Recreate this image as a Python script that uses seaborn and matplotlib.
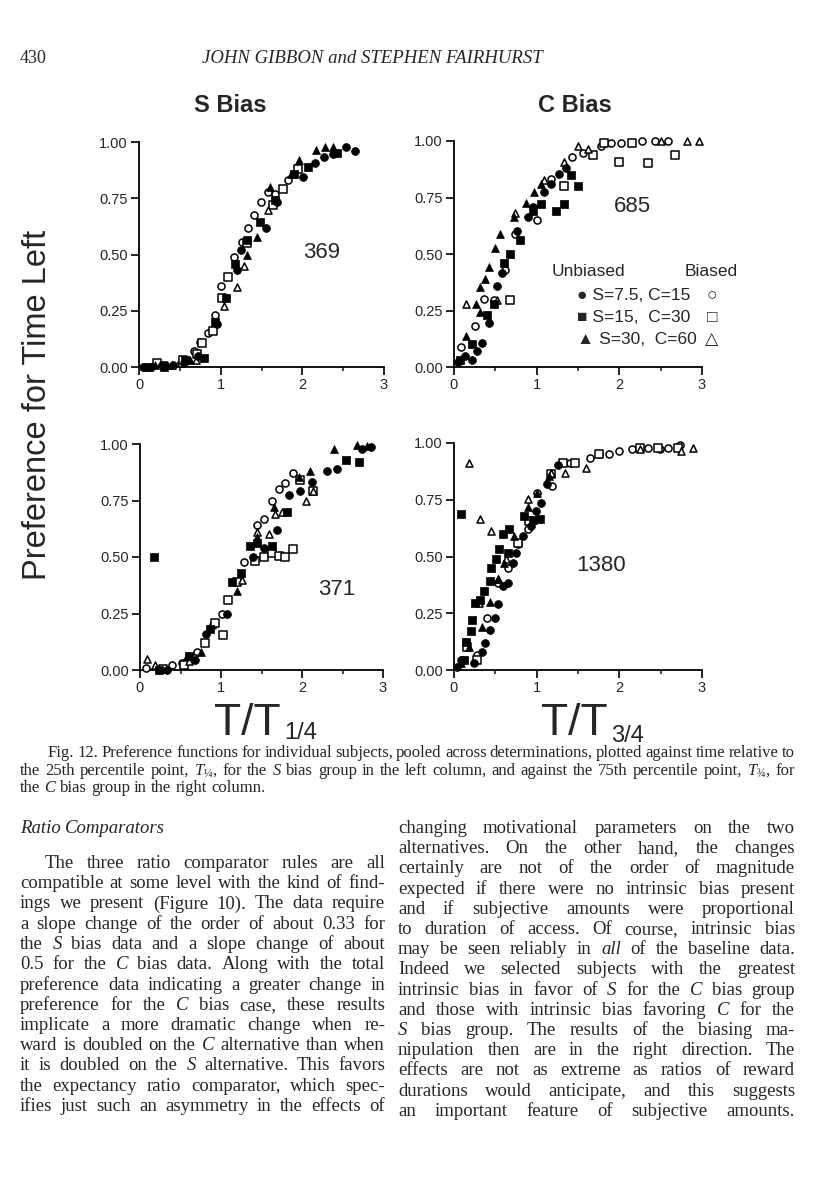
import matplotlib
matplotlib.use("Agg")
import matplotlib.pyplot as plt
import seaborn as sns

# ---- data: fc/fs/ft = filled (unbiased), oc/os/ot = open (biased) ----
# panel 369, S bias (top left)
p369_fc_x = [0.05, 0.15, 0.28, 0.42, 0.55, 0.72, 0.95, 1.2, 1.25, 1.56, 1.69, 2.01, 2.16, 2.27, 2.38, 2.53, 2.64]
p369_fc_y = [0.0, 0.0, 0.01, 0.01, 0.02, 0.05, 0.19, 0.43, 0.52, 0.62, 0.735, 0.845, 0.905, 0.935, 0.947, 0.976, 0.96]
p369_oc_x = [0.07, 0.32, 0.52, 0.67, 0.75, 0.85, 0.93, 1.0, 1.16, 1.26, 1.34, 1.41, 1.49, 1.58, 1.67, 1.83]
p369_oc_y = [0.0, 0.01, 0.02, 0.07, 0.11, 0.15, 0.23, 0.36, 0.49, 0.555, 0.62, 0.675, 0.735, 0.78, 0.77, 0.83]
p369_fs_x = [0.12, 0.3, 0.56, 0.79, 0.93, 1.07, 1.18, 1.32, 1.48, 1.67, 1.9, 2.07, 2.42]
p369_fs_y = [0.0, 0.0, 0.03, 0.04, 0.2, 0.305, 0.46, 0.565, 0.645, 0.742, 0.86, 0.887, 0.95]
p369_os_x = [0.22, 0.54, 0.71, 0.77, 0.9, 1.02, 1.09, 1.32, 1.64, 1.76, 1.95]
p369_os_y = [0.02, 0.03, 0.06, 0.105, 0.16, 0.305, 0.4, 0.55, 0.72, 0.79, 0.88]
p369_ft_x = [0.2, 0.34, 0.62, 1.32, 1.44, 1.61, 1.86, 1.96, 2.17, 2.28, 2.38]
p369_ft_y = [0.01, 0.01, 0.03, 0.5, 0.58, 0.8, 0.86, 0.92, 0.965, 0.98, 0.98]
p369_ot_x = [0.4, 0.7, 1.045, 1.2, 1.28, 1.58]
p369_ot_y = [0.01, 0.03, 0.27, 0.357, 0.45, 0.70]

# panel 685, C bias (top right)
p685_fc_x = [0.05, 0.13, 0.22, 0.28, 0.34, 0.42, 0.52, 0.58, 0.76, 0.89, 0.95, 1.09, 1.17, 1.27, 1.35]
p685_fc_y = [0.02, 0.05, 0.03, 0.07, 0.105, 0.195, 0.36, 0.415, 0.6, 0.665, 0.71, 0.775, 0.81, 0.856, 0.88]
p685_oc_x = [0.09, 0.26, 0.36, 0.48, 0.62, 0.74, 1.01, 1.17, 1.43, 1.56, 1.78, 1.9, 2.02, 2.27, 2.43, 2.59]
p685_oc_y = [0.09, 0.18, 0.30, 0.297, 0.43, 0.59, 0.65, 0.834, 0.93, 0.947, 0.98, 0.99, 0.99, 1.0, 1.0, 1.0]
p685_fs_x = [0.07, 0.22, 0.4, 0.48, 0.6, 0.68, 0.8, 0.95, 1.05, 1.23, 1.33, 1.41, 1.5]
p685_fs_y = [0.03, 0.1, 0.23, 0.28, 0.46, 0.5, 0.56, 0.69, 0.72, 0.69, 0.72, 0.85, 0.8]
p685_os_x = [0.68, 1.33, 1.68, 1.82, 2.0, 2.15, 2.35, 2.67]
p685_os_y = [0.297, 0.8, 0.937, 0.99, 0.907, 0.99, 0.904, 0.94]
p685_ft_x = [0.15, 0.27, 0.32, 0.32, 0.38, 0.42, 0.5, 0.56, 0.72, 0.87, 0.97, 1.05]
p685_ft_y = [0.135, 0.28, 0.245, 0.356, 0.39, 0.444, 0.525, 0.59, 0.665, 0.724, 0.775, 0.81]
p685_ot_x = [0.15, 0.52, 0.74, 1.09, 1.33, 1.5, 1.62, 2.51, 2.82, 2.96]
p685_ot_y = [0.28, 0.297, 0.68, 0.826, 0.907, 0.98, 0.966, 1.0, 1.0, 1.0]

# panel 371, S bias (bottom left)
p371_fc_x = [0.33, 0.68, 0.82, 1.07, 1.4, 1.53, 1.69, 1.84, 1.98, 2.12, 2.31, 2.43, 2.74, 2.85]
p371_fc_y = [0.0, 0.045, 0.16, 0.25, 0.5, 0.54, 0.62, 0.775, 0.79, 0.83, 0.88, 0.89, 0.976, 0.985]
p371_oc_x = [0.08, 0.39, 0.52, 0.7, 0.9, 1.01, 1.28, 1.44, 1.53, 1.63, 1.71, 1.79, 1.89]
p371_oc_y = [0.01, 0.02, 0.03, 0.08, 0.2, 0.25, 0.48, 0.64, 0.67, 0.75, 0.8, 0.826, 0.873]
p371_fs_x = [0.17, 0.23, 0.6, 0.87, 1.13, 1.25, 1.36, 1.44, 1.63, 1.81, 2.54, 2.70]
p371_fs_y = [0.50, 0.0, 0.06, 0.18, 0.39, 0.43, 0.55, 0.56, 0.55, 0.70, 0.93, 0.92]
p371_os_x = [0.29, 0.54, 0.66, 0.8, 0.93, 1.03, 1.09, 1.2, 1.42, 1.53, 1.63, 1.71, 1.79, 1.89, 1.98, 2.14]
p371_os_y = [0.003, 0.02, 0.05, 0.12, 0.21, 0.155, 0.31, 0.39, 0.484, 0.50, 0.516, 0.504, 0.50, 0.535, 0.84, 0.79]
p371_ft_x = [0.58, 0.75, 1.2, 1.44, 1.65, 1.96, 2.1, 2.39, 2.68, 2.8]
p371_ft_y = [0.06, 0.08, 0.35, 0.59, 0.72, 0.855, 0.88, 0.98, 0.995, 0.99]
p371_ot_x = [0.09, 0.19, 0.6, 1.26, 1.44, 1.59, 1.67, 1.75, 2.05, 2.14]
p371_ot_y = [0.05, 0.02, 0.04, 0.4, 0.61, 0.60, 0.69, 0.70, 0.75, 0.79]

# panel 1380, C bias (bottom right)
p1380_fc_x = [0.04, 0.1, 0.24, 0.34, 0.38, 0.43, 0.49, 0.53, 0.59, 0.65, 0.71, 0.75, 0.83, 0.93, 0.99, 1.05, 1.13, 1.26]
p1380_fc_y = [0.012, 0.044, 0.03, 0.08, 0.118, 0.177, 0.229, 0.29, 0.37, 0.383, 0.47, 0.516, 0.59, 0.634, 0.70, 0.737, 0.82, 0.903]
p1380_oc_x = [0.08, 0.28, 0.4, 0.53, 0.65, 0.77, 0.89, 1.01, 1.19, 1.4, 1.64, 1.76, 1.88, 2.0, 2.15, 2.35, 2.49, 2.59, 2.73]
p1380_oc_y = [0.044, 0.066, 0.229, 0.383, 0.45, 0.553, 0.62, 0.78, 0.81, 0.91, 0.932, 0.95, 0.95, 0.966, 0.973, 0.976, 0.973, 0.98, 0.99]
p1380_fs_x = [0.08, 0.12, 0.14, 0.2, 0.22, 0.26, 0.32, 0.36, 0.43, 0.45, 0.51, 0.55, 0.59, 0.65, 0.67, 0.85, 0.95, 1.04]
p1380_fs_y = [0.686, 0.044, 0.125, 0.17, 0.22, 0.295, 0.31, 0.347, 0.39, 0.45, 0.49, 0.534, 0.597, 0.516, 0.622, 0.68, 0.66, 0.667]
p1380_os_x = [0.16, 0.28, 0.77, 0.91, 1.17, 1.32, 1.46, 1.76, 2.25, 2.47, 2.71]
p1380_os_y = [0.103, 0.044, 0.56, 0.656, 0.863, 0.91, 0.91, 0.95, 0.976, 0.976, 0.98]
p1380_ft_x = [0.08, 0.18, 0.34, 0.43, 0.53, 0.61, 0.73, 0.89, 1.01, 1.15]
p1380_ft_y = [0.03, 0.10, 0.19, 0.30, 0.40, 0.47, 0.59, 0.72, 0.78, 0.855]
p1380_ot_x = [0.18, 0.3, 0.32, 0.45, 0.53, 0.63, 0.89, 1.17, 1.34, 1.6, 2.25, 2.74, 2.89]
p1380_ot_y = [0.914, 0.295, 0.664, 0.612, 0.40, 0.487, 0.755, 0.866, 0.87, 0.89, 0.973, 0.966, 0.98]

y_ticks = [0, 0.25, 0.5, 0.75, 1.0]
y_tick_labels = ["0.00", "0.25", "0.50", "0.75", "1.00"]
x_ticks = [0, 1, 2, 3]
legend_rows = ["S=7.5, C=15", "S=15,  C=30", "S=30,  C=60"]

sns.set_style("ticks")
plt.rcParams["font.family"] = ["Liberation Sans", "DejaVu Sans"]
plt.rcParams["mathtext.fontset"] = "custom"
plt.rcParams["mathtext.rm"] = "Liberation Serif"
plt.rcParams["mathtext.it"] = "Liberation Serif:italic"

W, H = 816, 1200
fig = plt.figure(figsize=(W / 100, H / 100), dpi=100)
renderer = fig.canvas.get_renderer()


def fx(x):
    return x / W


def fy(y):
    return 1 - y / H


def panel(rect, series, label, label_xy):
    ax = fig.add_axes(rect)
    # open markers first, filled on top
    for xs, ys, m, filled in series:
        if filled:
            sns.scatterplot(x=xs, y=ys, marker=m, s=32, facecolor="black", edgecolor="black",
                            linewidth=0.5, ax=ax, clip_on=False, legend=False, zorder=3)
        else:
            sns.scatterplot(x=xs, y=ys, marker=m, s=26, facecolor="white", edgecolor="black",
                            linewidth=1.1, ax=ax, clip_on=False, legend=False, zorder=3)
    ax.set_xlim(0, 3)
    ax.set_ylim(0, 1)
    ax.set_xticks(x_ticks)
    ax.set_xticks([0.5, 1.5, 2.5], minor=True)
    ax.set_yticks(y_ticks)
    ax.set_yticklabels(y_tick_labels)
    ax.tick_params(which="major", direction="out", length=5.5, width=1.2, labelsize=10.5,
                   pad=2.5, color="black")
    ax.tick_params(which="minor", axis="x", direction="out", length=3, width=1.2)
    ax.tick_params(axis="y", which="minor", length=0)
    sns.despine(ax=ax)
    for s in ["left", "bottom"]:
        ax.spines[s].set_linewidth(1.3)
        ax.spines[s].set_color("black")
    ax.set_xlabel("")
    ax.set_ylabel("")
    ax.text(label_xy[0], label_xy[1], label, fontsize=16, ha="center", va="center")
    return ax


panel([139 / W, fy(367), 245 / W, 225 / H],
      [(p369_oc_x, p369_oc_y, "o", False), (p369_os_x, p369_os_y, "s", False), (p369_ot_x, p369_ot_y, "^", False),
       (p369_fc_x, p369_fc_y, "o", True), (p369_fs_x, p369_fs_y, "s", True), (p369_ft_x, p369_ft_y, "^", True)],
      "369", (2.24, 0.507))
panel([454 / W, fy(367), 248 / W, 226 / H],
      [(p685_oc_x, p685_oc_y, "o", False), (p685_os_x, p685_os_y, "s", False), (p685_ot_x, p685_ot_y, "^", False),
       (p685_fc_x, p685_fc_y, "o", True), (p685_fs_x, p685_fs_y, "s", True), (p685_ft_x, p685_ft_y, "^", True)],
      "685", (2.16, 0.71))
panel([140 / W, fy(670), 243 / W, 226 / H],
      [(p371_oc_x, p371_oc_y, "o", False), (p371_os_x, p371_os_y, "s", False), (p371_ot_x, p371_ot_y, "^", False),
       (p371_fc_x, p371_fc_y, "o", True), (p371_fs_x, p371_fs_y, "s", True), (p371_ft_x, p371_ft_y, "^", True)],
      "371", (2.43, 0.354))
panel([454 / W, fy(670), 248 / W, 227 / H],
      [(p1380_oc_x, p1380_oc_y, "o", False), (p1380_os_x, p1380_os_y, "s", False), (p1380_ot_x, p1380_ot_y, "^", False),
       (p1380_fc_x, p1380_fc_y, "o", True), (p1380_fs_x, p1380_fs_y, "s", True), (p1380_ft_x, p1380_ft_y, "^", True)],
      "1380", (1.78, 0.46))

# legend of the C bias panel
fig.text(fx(588), fy(272), "Unbiased", fontsize=12.5, ha="center", va="center")
fig.text(fx(711), fy(272), "Biased", fontsize=12.5, ha="center", va="center")
for row, fill_glyph, open_glyph, yy in zip(legend_rows, ["●", "■", "▲"], ["○", "□", "△"], [296, 317, 339]):
    fig.text(fx(577), fy(yy), fill_glyph + " " + row, fontsize=12.5, ha="left", va="center")
    fig.text(fx(712), fy(yy), open_glyph, fontsize=12.5, ha="center", va="center")

# figure titles and axis labels
fig.text(fx(230), fy(105), "S Bias", fontsize=17, fontweight="bold", ha="center", va="center")
fig.text(fx(575), fy(105), "C Bias", fontsize=17, fontweight="bold", ha="center", va="center")
fig.text(fx(38), fy(405), "Preference for Time Left", fontsize=23.5, rotation=90, ha="center", va="center")
fig.text(fx(214), fy(735), "T/T", fontsize=32, ha="left", va="baseline")
fig.text(fx(284), fy(739), "1/4", fontsize=17, ha="left", va="baseline")
fig.text(fx(541), fy(735), "T/T", fontsize=32, ha="left", va="baseline")
fig.text(fx(611), fy(742), "3/4", fontsize=17, ha="left", va="baseline")

# page header
fig.text(fx(20), fy(63), "430", fontsize=13, family="Liberation Serif", va="baseline")
fig.text(fx(372), fy(63), "JOHN GIBBON and STEPHEN FAIRHURST", fontsize=13.5, family="Liberation Serif",
         fontstyle="italic", ha="center", va="baseline")


def put_line(line, x0, x1, y, size, justify=True):
    texts = []
    for w in line.split():
        style = "normal"
        if w.startswith("*"):
            w = w[1:]
            style = "italic"
        t = fig.text(0, fy(y), w, fontsize=size, fontstyle=style, family="Liberation Serif",
                     va="baseline", ha="left")
        texts.append(t)
    widths = [t.get_window_extent(renderer).width for t in texts]
    gap = size * 0.25 * 100 / 72
    if justify and len(texts) > 1:
        gap = max((x1 - x0 - sum(widths)) / (len(texts) - 1), 2.0)
    x = x0
    for t, w in zip(texts, widths):
        t.set_x(fx(x))
        x += w + gap


# caption
cap_size = 12
put_line("Fig. 12.  Preference functions for individual subjects, pooled across determinations, plotted against time relative to",
         48, 795, 757, cap_size)
put_line("the 25th percentile point, $T_{¼}$, for the *S bias group in the left column, and against the 75th percentile point, $T_{¾}$, for",
         20, 795, 775, cap_size)
put_line("the *C bias group in the right column.", 20, 795, 792, cap_size, justify=False)

# body text
left_col = [
    "The three ratio comparator rules are all",
    "compatible at some level with the kind of find-",
    "ings we present (Figure 10). The data require",
    "a slope change of the order of about 0.33 for",
    "the *S bias data and a slope change of about",
    "0.5 for the *C bias data. Along with the total",
    "preference data indicating a greater change in",
    "preference for the *C bias case, these results",
    "implicate a more dramatic change when re-",
    "ward is doubled on the *C alternative than when",
    "it is doubled on the *S alternative. This favors",
    "the expectancy ratio comparator, which spec-",
    "ifies just such an asymmetry in the effects of",
]
right_col = [
    "changing motivational parameters on the two",
    "alternatives. On the other hand, the changes",
    "certainly are not of the order of magnitude",
    "expected if there were no intrinsic bias present",
    "and if subjective amounts were proportional",
    "to duration of access. Of course, intrinsic bias",
    "may be seen reliably in *all of the baseline data.",
    "Indeed we selected subjects with the greatest",
    "intrinsic bias in favor of *S for the *C bias group",
    "and those with intrinsic bias favoring *C for the",
    "*S bias group. The results of the biasing ma-",
    "nipulation then are in the right direction. The",
    "effects are not as extreme as ratios of reward",
    "durations would anticipate, and this suggests",
    "an important feature of subjective amounts.",
]
body_size = 13.5
put_line("*Ratio *Comparators", 20, 385, 833, body_size, justify=False)
for i, line in enumerate(left_col):
    put_line(line, 45 if i == 0 else 20, 385, 868 + i * 20.25, body_size)
for i, line in enumerate(right_col):
    put_line(line, 398, 795, 833 + i * 20.2, body_size)

fig.savefig("out.png", dpi=100)
